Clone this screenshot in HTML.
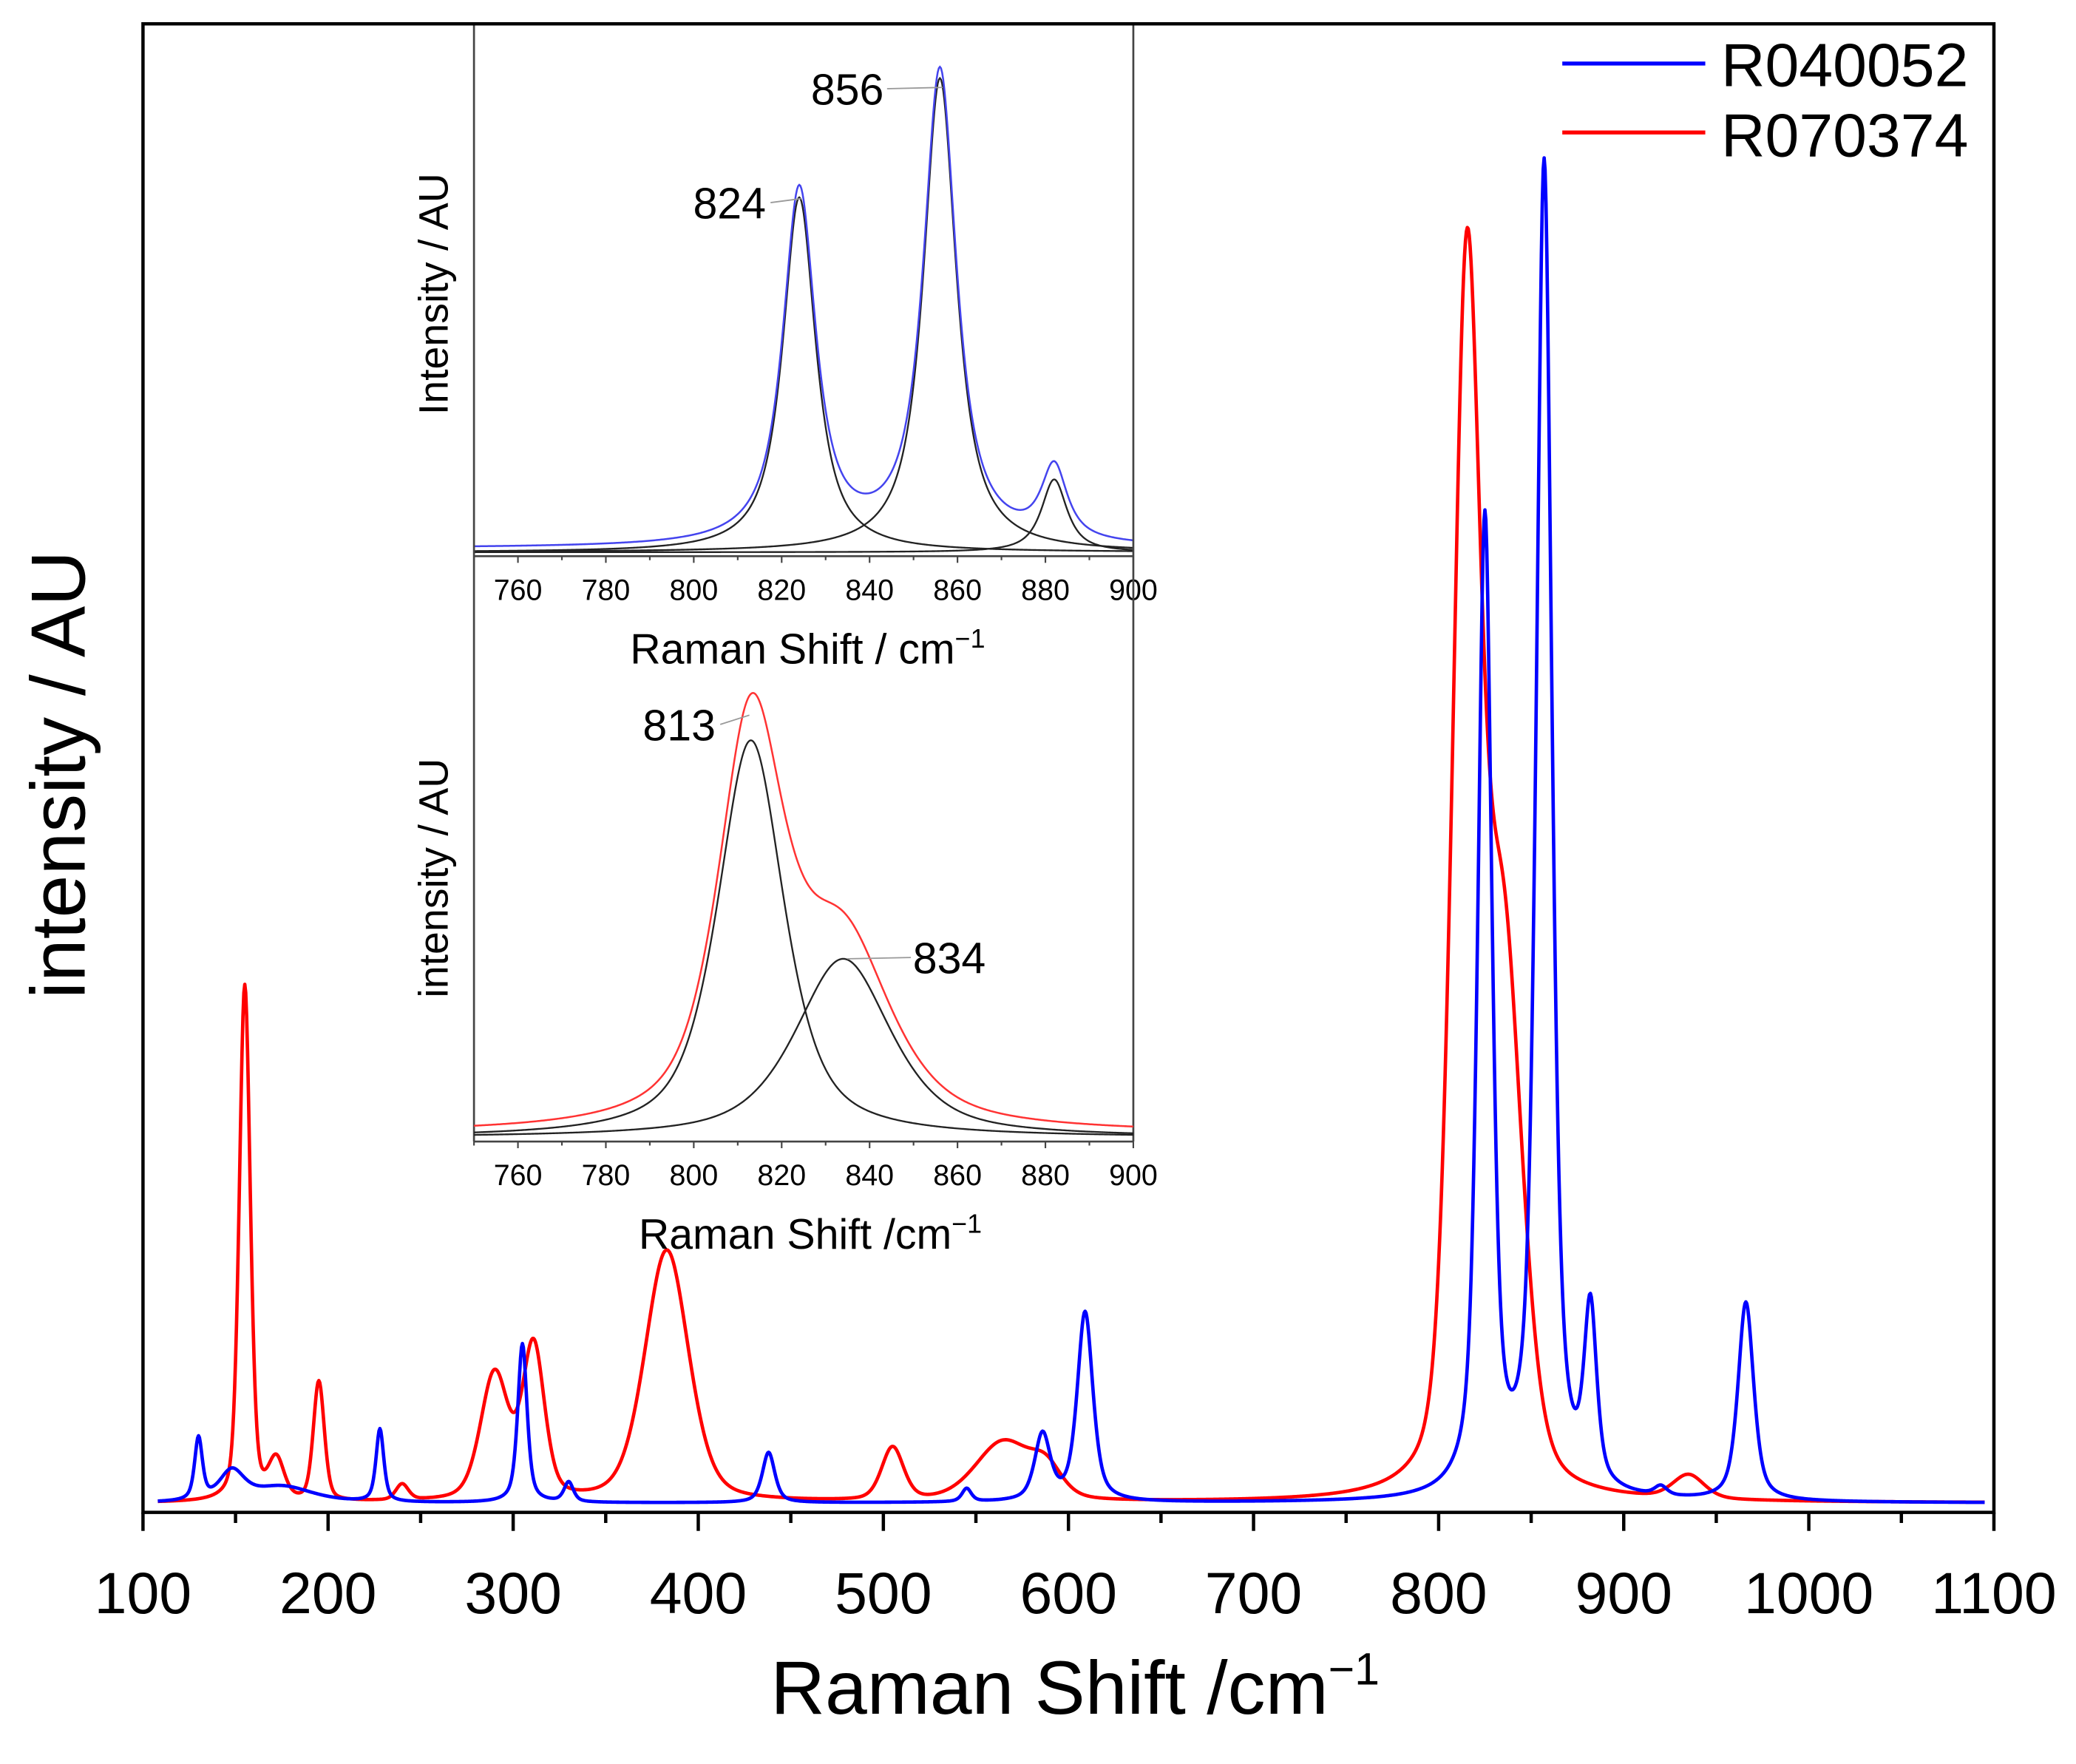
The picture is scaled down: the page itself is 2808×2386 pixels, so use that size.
<!DOCTYPE html>
<html><head><meta charset="utf-8"><style>
html,body{margin:0;padding:0;background:#fff;}
svg{display:block;}
text{font-family:"Liberation Sans",Arial,sans-serif;fill:#000;}
</style></head><body>
<svg id="chart" width="2808" height="2386" viewBox="0 0 1568 1332" preserveAspectRatio="none" xmlns="http://www.w3.org/2000/svg">
<rect x="0" y="0" width="1568" height="1332" fill="#fff"/>
<g id="main-series"></g>
<g id="inset1"></g>
<g id="inset2"></g>
<g id="axes"></g>
<text x="812" y="1294" font-size="57" text-anchor="middle">Raman Shift /cm<tspan font-size="34" dy="-22">−1</tspan></text>
<text transform="translate(64,585) rotate(-90)" font-size="58" text-anchor="middle">intensity / AU</text>
<g>
<line x1="1180" y1="48" x2="1288" y2="48" stroke="#0000ff" stroke-width="3"/>
<text x="1300" y="65" font-size="46">R040052</text>
<line x1="1180" y1="100" x2="1288" y2="100" stroke="#ff0000" stroke-width="3"/>
<text x="1300" y="118" font-size="46">R070374</text>
</g>
</svg>
<script>
// ---- main chart data (peak parameters) ----
const blueCenters = [130,148,175,228,305,330,438,545,586,609,825,857,882,920,966];
const blueHeights = [47,22,12,55,120,15,38,10,50,143,735,1005,132,7,150];
const blueWidths  = [2.5,8,20,2.5,3,3,4,3,5,5,4.5,5,4,4,5];
const redCenters  = [155,172,195,240,290,311,383,505,565,588,815,835,935];
const redHeights  = [390,30,90,12,95,115,190,40,45,20,885,400,18];
const redWidths   = [3.5,5,3.5,4,9,7,14,7,18,10,9,12,10];
const xTicks = [100,200,300,400,500,600,700,800,900,1000,1100];
// inset data
const inset1Centers = [824,856,882];
const inset1Heights = [268,358,55];
const inset1Widths  = [4.5,4.5,3.5];
const inset2Centers = [813,834];
const inset2Heights = [300,135];
const inset2Widths  = [9,13];
const insetTicks = [760,780,800,820,840,860,880,900];

const NS='http://www.w3.org/2000/svg';
function mk(tag,attrs,parent){const e=document.createElementNS(NS,tag);for(const k in attrs)e.setAttribute(k,attrs[k]);parent.appendChild(e);return e;}
function pv(x,c,h,w,eta){const d=(x-c)/w;return h*(eta/(1+d*d)+(1-eta)*Math.exp(-Math.LN2*d*d));}
function sumPeaks(x,cs,hs,ws,eta){let s=0;for(let i=0;i<cs.length;i++)s+=pv(x,cs[i],hs[i],ws[i],eta);return s;}

const X0=108,X1=1506,Y0=1142,Y1=18;
const xMin=100,xMax=1100,yMin=-7,yMax=1117;
const sx=v=>X0+(v-xMin)/(xMax-xMin)*(X1-X0);
const sy=v=>Y0-(v-yMin)/(yMax-yMin)*(Y0-Y1);

const ms=document.getElementById('main-series');
function drawMain(cs,hs,ws,eta,color,name){
  let d='';
  for(let x=xMin+8;x<=xMax-5;x+=0.5){const y=sumPeaks(x,cs,hs,ws,eta);d+=(d?'L':'M')+sx(x).toFixed(2)+','+sy(y).toFixed(2);}
  const p=mk('path',{d:d,fill:'none',stroke:color,'stroke-width':2.6,'stroke-linejoin':'round'},ms);
  
  
}
drawMain(redCenters,redHeights,redWidths,0.35,'#ff0000','series-r070374');
drawMain(blueCenters,blueHeights,blueWidths,0.6,'#0000ff','series-r040052');

const ax=document.getElementById('axes');
const fr=mk('rect',{x:X0,y:Y1,width:X1-X0,height:Y0-Y1,fill:'none',stroke:'#000','stroke-width':2.5},ax);


xTicks.forEach((t,i)=>{
  const tk=mk('line',{x1:sx(t),x2:sx(t),y1:Y0,y2:Y0+14,stroke:'#000','stroke-width':2.5},ax);
  
  
  const lb=mk('text',{x:sx(t),y:1218,'font-size':44,'text-anchor':'middle'},ax);
  lb.textContent=t;
  
  
  if(i<xTicks.length-1){
    const m=mk('line',{x1:sx(t+50),x2:sx(t+50),y1:Y0,y2:Y0+8,stroke:'#000','stroke-width':2.5},ax);
    
    
  }
});

function drawInset(gid,top,bottom,cs,hs,ws,envColor,compEta,labels){
  const g=document.getElementById(gid);
  const L=358,R=856,iMin=750,iMax=900;
  const ix=v=>L+(v-iMin)/(iMax-iMin)*(R-L);
  const iy=v=>bottom-3-v;
  cs.forEach((c,i)=>{
    let d='';
    for(let x=iMin;x<=iMax;x+=0.25){d+=(d?'L':'M')+ix(x).toFixed(2)+','+iy(pv(x,c,hs[i],ws[i],compEta)).toFixed(2);}
    const p=mk('path',{d:d,fill:'none',stroke:'#222','stroke-width':1.3},g);
    
    
  });
  let d='';
  for(let x=iMin;x<=iMax;x+=0.25){d+=(d?'L':'M')+ix(x).toFixed(2)+','+iy(sumPeaks(x,cs,hs,ws,compEta)+3).toFixed(2);}
  const env=mk('path',{d:d,fill:'none',stroke:envColor,'stroke-width':1.4},g);
  
  
  const axl=mk('line',{x1:L,x2:R,y1:bottom,y2:bottom,stroke:'#444','stroke-width':1.5},g);
  
  
  for(let t=750;t<=900;t+=10){
    const tk=mk('line',{x1:ix(t),x2:ix(t),y1:bottom,y2:bottom+(t%20===0?5:3),stroke:'#444','stroke-width':1.2},g);
    
    
  }
  insetTicks.forEach(t=>{
    const lb=mk('text',{x:ix(t),y:bottom+33,'font-size':22,'text-anchor':'middle',fill:'#222'},g);
    lb.textContent=t;
    
    
  });
  labels.forEach(l=>{
    const ln=mk('line',{x1:l[3],y1:l[2]-12,x2:l[4],y2:l[5],stroke:'#999','stroke-width':1},g);
    
    
    const tx=mk('text',{x:l[1],y:l[2],'font-size':33,'text-anchor':'middle'},g);
    tx.textContent=l[0];
    
    
  });
}
drawInset('inset1',18,420,inset1Centers,inset1Heights,inset1Widths,'#4444ee',0.9,
  [['856',640,79,670,712,66],['824',551,165,582,605,150]]);
drawInset('inset2',462,862,inset2Centers,inset2Heights,inset2Widths,'#ff3333',0.65,
  [['813',513,559,544,566,540],['834',717,735,688,640,724]]);
const ins=document.getElementById('inset1');
const frame=[[358,18,358,862],[856,18,856,862]];
frame.forEach(f=>{
  const l=mk('line',{x1:f[0],y1:f[1],x2:f[2],y2:f[3],stroke:'#444','stroke-width':1.5},ins);
  
  
});
function addText(parent,name,attrs,txt,sup){
  const t=mk('text',attrs,parent);
  t.textContent=txt;
  if(sup){const s=mk('tspan',{'font-size':20,dy:-12},t);s.textContent=sup;}
  
  
}
addText(ins,'inset-top-x-title',{x:610,y:501,'font-size':32,'text-anchor':'middle'},'Raman Shift / cm','−1');
addText(ins,'inset-top-y-title',{transform:'translate(338,222) rotate(-90)','font-size':31,'text-anchor':'middle'},'Intensity / AU');
const ins2=document.getElementById('inset2');
addText(ins2,'inset-bottom-x-title',{x:612,y:943,'font-size':32,'text-anchor':'middle'},'Raman Shift /cm','−1');
addText(ins2,'inset-bottom-y-title',{transform:'translate(338,663) rotate(-90)','font-size':31,'text-anchor':'middle'},'intensity / AU');
</script>
</body></html>
